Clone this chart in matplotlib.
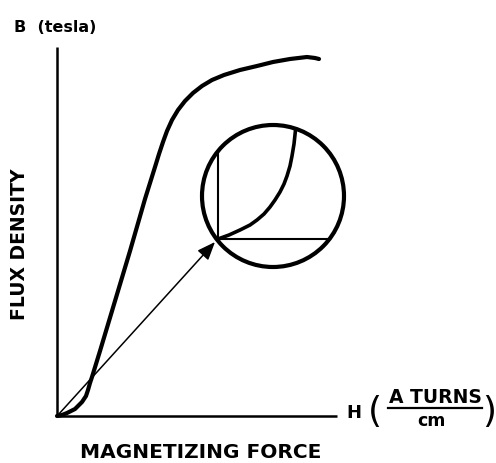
import matplotlib.pyplot as plt
import matplotlib.patches as patches

# Кривая намагничивания B(H), условные единицы
h_curve = [0, 5, 10, 18, 25, 29, 31, 33, 35, 39, 43, 55, 73, 88, 98, 102,
           106, 110, 115, 121, 128, 136, 145, 155, 167, 183, 200, 216, 233,
           250, 258, 262]
b_curve = [0, 1, 3, 7, 14, 20, 26, 33, 39, 52, 65, 105, 165, 217, 249, 262,
           274, 285, 296, 306, 315, 323, 330, 336, 341, 346, 350, 354, 357,
           359, 358, 357]

# Увеличенный участок в круге
zoom_center = (216, 220)
zoom_radius = 71
h_inner = [161, 172, 183, 193, 200, 207, 213, 218, 223, 227, 230, 233, 235,
           237, 238.5]
b_inner = [177, 181, 186, 191, 196, 202, 209, 216, 224, 232, 240, 250, 260,
           272, 286]
h_corner = 161
b_corner = 177

# Оси
h_max = 280
b_max = 369

fig = plt.figure(figsize=(4.96, 4.64), dpi=100)
ax = fig.add_axes([0, 0, 1, 1])
ax.set_xlim(-57, 439)
ax.set_ylim(-47, 417)
ax.axis('off')

black = '#000000'

# Оси H и B
ax.plot([0, h_max], [0, 0], color=black, lw=1.8, solid_capstyle='butt')
ax.plot([0, 0], [0, b_max], color=black, lw=1.8, solid_capstyle='butt')

# Основная кривая
ax.plot(h_curve, b_curve, color=black, lw=3.0, solid_capstyle='round',
        solid_joinstyle='round')

# Круг с увеличенным участком
circle = patches.Circle(zoom_center, zoom_radius, fill=False,
                        edgecolor=black, lw=3.0)
ax.add_patch(circle)

cx, cy = zoom_center
dx = h_corner - cx
top = cy + (zoom_radius ** 2 - dx ** 2) ** 0.5
dy = b_corner - cy
right = cx + (zoom_radius ** 2 - dy ** 2) ** 0.5
ax.plot([h_corner, h_corner], [b_corner, top], color=black, lw=1.5)
ax.plot([h_corner, right], [b_corner, b_corner], color=black, lw=1.5)
ax.plot(h_inner, b_inner, color=black, lw=2.6, solid_capstyle='round',
        solid_joinstyle='round')

# Стрелка от начала координат к кругу
ax.annotate('', xy=(h_corner - 3, b_corner - 3), xytext=(1, 1),
            arrowprops=dict(arrowstyle='-|>,head_length=0.5,head_width=0.2',
                            color=black, lw=1.1, mutation_scale=22,
                            shrinkA=0, shrinkB=0))

# Подписи
font = 'DejaVu Sans'
ax.text(-43, 390, 'B  (tesla)', fontsize=11.5, fontweight='bold',
        family=font, ha='left', va='center')
ax.text(-37, 173, 'FLUX DENSITY', fontsize=13.5, fontweight='bold',
        family=font, rotation=90, ha='center', va='center')
ax.text(144, -36, 'MAGNETIZING FORCE', fontsize=14.5, fontweight='bold',
        family=font, ha='center', va='center')
ax.text(297, 4, 'H', fontsize=13, fontweight='bold', family=font,
        ha='center', va='center')
ax.text(318, 5, '(', fontsize=26, family=font, ha='center', va='center')
ax.text(378, 19, 'A TURNS', fontsize=13.5, fontweight='bold', family=font,
        ha='center', va='center')
ax.plot([331, 425], [8, 8], color=black, lw=1.6)
ax.text(374, -4, 'cm', fontsize=12.5, fontweight='bold', family=font,
        ha='center', va='center')
ax.text(432, 5, ')', fontsize=26, family=font, ha='center', va='center')

plt.savefig('out.png', dpi=100, facecolor='white')
plt.close()
